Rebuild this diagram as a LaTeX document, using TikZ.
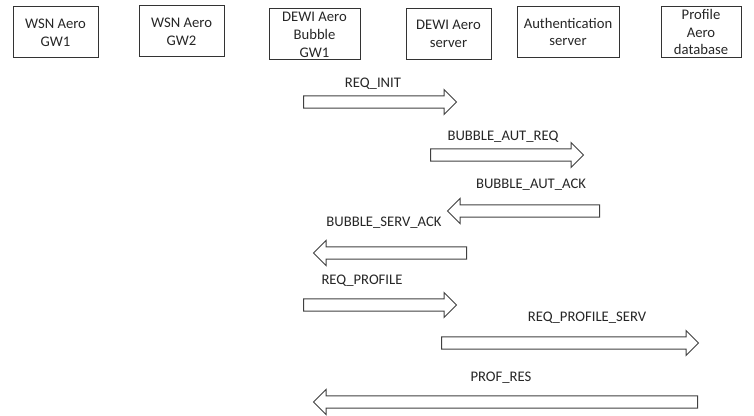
\documentclass[tikz,border=0pt]{standalone}
\usepackage{fontspec}
\setmainfont{Carlito}
\usetikzlibrary{shapes.arrows}

\begin{document}
\begin{tikzpicture}[x=0.75pt,y=-0.75pt,
  every node/.style={font=\fontsize{11}{13.4}\selectfont, text=black!85},
  entity/.style={draw=black!80, line width=0.75pt, align=center, inner sep=0pt,
    minimum width=#1*0.75pt, minimum height=38.25pt},
  msgarrow/.style={single arrow, draw=black!75, line width=0.75pt,
    inner xsep=0pt, inner ysep=4.3pt,
    single arrow head extend=4.7pt, single arrow tip angle=90,
    anchor=tail, minimum height=#1*0.75pt},
  msgleft/.style={msgarrow=#1, shape border rotate=180}]
\useasboundingbox (0,0) rectangle (754,416);
% entities
\node[entity=85] (wsngwa) at (55.5,32.5) {WSN Aero\\GW1};
\node[entity=85] (wsngwb) at (181.5,31.5) {WSN Aero\\GW2};
\node[entity=91] (bubble) at (314.5,34.5) {DEWI Aero\\Bubble\\GW1};
\node[entity=85] (server) at (448.5,34) {DEWI Aero\\server};
\node[entity=102] (auth) at (568,32) {Authentication\\server};
\node[entity=80] (profdb) at (701,32) {Profile\\Aero\\database};
% messages
\node[msgarrow=153] (reqinit) at (303,102) {};
\node (reqinitlbl) at (373,84) {REQ\_INIT};
\node[msgarrow=153] (autreq) at (430,155) {};
\node (autreqlbl) at (503,137) {BUBBLE\_AUT\_REQ};
\node[msgleft=152] (autack) at (600,211) {};
\node (autacklbl) at (531,185) {BUBBLE\_AUT\_ACK};
\node[msgleft=153] (servack) at (467,253) {};
\node (servacklbl) at (384,223) {BUBBLE\_SERV\_ACK};
\node[msgarrow=153] (reqprof) at (303,305) {};
\node (reqproflbl) at (362,281) {REQ\_PROFILE};
\node[msgarrow=257] (reqprofserv) at (441,343) {};
\node (reqprofservlbl) at (587,318) {REQ\_PROFILE\_SERV};
\node[msgleft=384] (profres) at (698,402) {};
\node (profreslbl) at (501,378) {PROF\_RES};
\end{tikzpicture}
\end{document}
